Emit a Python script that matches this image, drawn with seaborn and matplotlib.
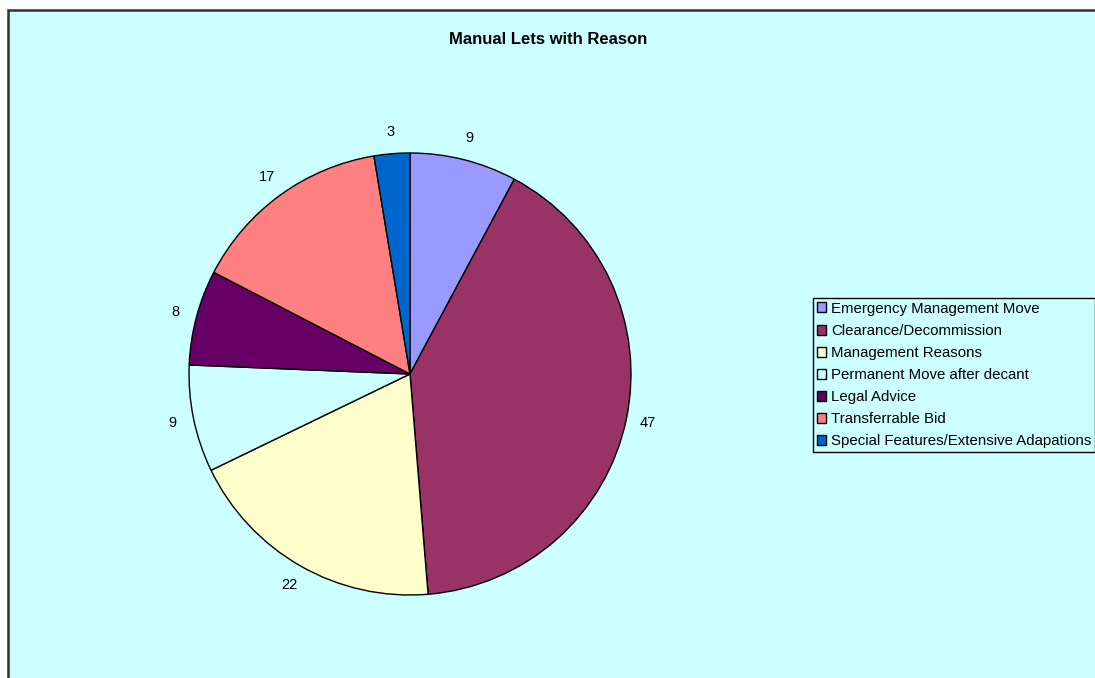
import matplotlib
matplotlib.use("Agg")
import matplotlib.pyplot as plt
import matplotlib.patches as mpatches
import seaborn as sns

categories = ["Emergency Management Move", "Clearance/Decommission", "Management Reasons",
              "Permanent Move after decant", "Legal Advice", "Transferrable Bid",
              "Special Features/Extensive Adapations"]
values = [9, 47, 22, 9, 8, 17, 3]
colors = ["#9999FF", "#993366", "#FFFFCC", "#CCFFFF", "#660066", "#FF8080", "#0066CC"]
title = "Manual Lets with Reason"

sns.set_style("white")
plt.rcParams['font.family'] = ['Liberation Sans', 'DejaVu Sans']
plt.rcParams['text.color'] = 'black'

W, H = 1095, 678
fig = plt.figure(figsize=(W / 100, H / 100), dpi=100)
fig.patch.set_facecolor("white")

# chart area background and border
bg = mpatches.Rectangle((8 / W, -0.1), 1.2, 1 - 10 / H + 0.1, transform=fig.transFigure,
                        facecolor="#CCFFFF", edgecolor="#333333", linewidth=1.8, zorder=-5)
fig.patches.append(bg)

cx, cy, r = 410, 374, 221
ax = fig.add_axes([(cx - r) / W, (H - cy - r) / H, 2 * r / W, 2 * r / H])
ax.set_zorder(2)
ax.set_facecolor("none")
wedges, texts = ax.pie(values, colors=colors, labels=[str(v) for v in values],
                       startangle=90, counterclock=False, labeldistance=1.1,
                       wedgeprops=dict(edgecolor="black", linewidth=1),
                       textprops=dict(fontsize=10.5, color="black"))
for t in texts:
    t.set_horizontalalignment("center")
    t.set_verticalalignment("center")
ax.set_xlim(-1, 1)
ax.set_ylim(-1, 1)
ax.set_aspect("equal")
ax.axis("off")

fig.text(548 / W, 1 - 40 / H, title, ha="center", va="center", fontsize=12,
         fontweight="bold", color="black")

leg = fig.legend(wedges, categories, loc="upper left",
                 bbox_to_anchor=(813 / W, 1 - 298 / H), borderaxespad=0,
                 fontsize=10.8, frameon=True, fancybox=False, framealpha=1,
                 edgecolor="black", facecolor="#CCFFFF",
                 handlelength=0.65, handleheight=0.65, handletextpad=0.3,
                 labelspacing=0.54, borderpad=0.25)
leg.get_frame().set_linewidth(1)
for t in leg.get_texts():
    t.set_color("black")

fig.savefig("out.png", dpi=100)
